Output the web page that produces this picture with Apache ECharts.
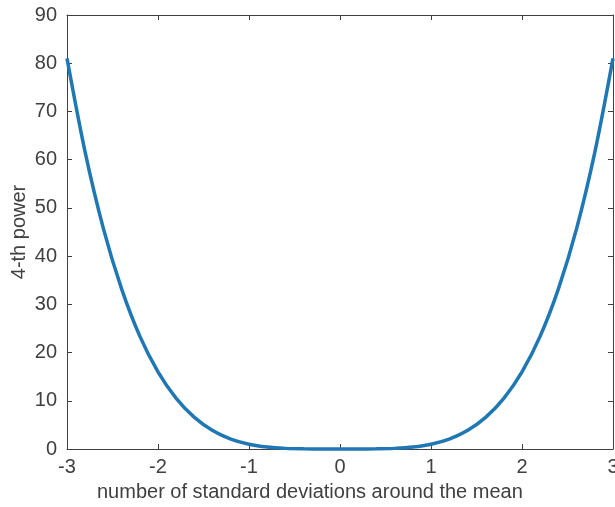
<!DOCTYPE html>
<html>
<head>
<meta charset="utf-8">
<script src="https://cdn.jsdelivr.net/npm/echarts@6/dist/echarts.min.js"></script>
<style>
  html, body { margin: 0; padding: 0; background: #fff; }
  #chart { width: 615px; height: 507px; }
</style>
</head>
<body>
<div id="chart"></div>
<script>
// Sample positions (standard deviations from the mean)
const xValues = [-3.0, -2.8, -2.6, -2.4, -2.2, -2.0, -1.8, -1.6, -1.4, -1.2, -1.0,
                 -0.8, -0.6, -0.4, -0.2, 0.0, 0.2, 0.4, 0.6, 0.8, 1.0,
                 1.2, 1.4, 1.6, 1.8, 2.0, 2.2, 2.4, 2.6, 2.8, 3.0];
// Fourth power at each sample position
const powerValues = [81.0, 61.5, 45.7, 33.2, 23.4, 16.0, 10.5, 6.55, 3.84, 2.07, 1.0,
                     0.41, 0.13, 0.03, 0.002, 0.0, 0.002, 0.03, 0.13, 0.41, 1.0,
                     2.07, 3.84, 6.55, 10.5, 16.0, 23.4, 33.2, 45.7, 61.5, 81.0];
const xTicks = [-3, -2, -1, 0, 1, 2, 3];
const yTicks = [0, 10, 20, 30, 40, 50, 60, 70, 80, 90];

const xLabel = 'number of standard deviations around the mean';
const yLabel = '4-th power';

const axisColor = '#404040';
const textColor = '#404040';
const fontFamily = '"Liberation Sans", Arial, Helvetica, sans-serif';

const chart = echarts.init(document.getElementById('chart'), null, { renderer: 'canvas' });

const baseAxis = {
  axisLine: { show: true, onZero: false, lineStyle: { color: axisColor, width: 1 } },
  axisTick: { show: true, inside: true, length: 5, lineStyle: { color: axisColor, width: 1 } },
  splitLine: { show: false },
};

chart.setOption({
  animation: false,
  backgroundColor: '#ffffff',
  grid: { left: 67, right: 2, top: 15, bottom: 58, containLabel: false, outerBoundsMode: 'none' },
  xAxis: [
    Object.assign({}, baseAxis, {
      type: 'value', position: 'bottom',
      min: xTicks[0], max: xTicks[xTicks.length - 1], interval: 1,
      axisLabel: { show: true, color: textColor, fontSize: 20, fontFamily: fontFamily, margin: 8,
                   showMinLabel: true, showMaxLabel: true }
    }),
    Object.assign({}, baseAxis, {
      type: 'value', position: 'top',
      min: xTicks[0], max: xTicks[xTicks.length - 1], interval: 1,
      axisLabel: { show: false }
    })
  ],
  yAxis: [
    Object.assign({}, baseAxis, {
      type: 'value', position: 'left',
      min: yTicks[0], max: yTicks[yTicks.length - 1], interval: 10,
      name: yLabel, nameLocation: 'middle', nameGap: 38, nameRotate: 90,
      nameMoveOverlap: false,
      nameTextStyle: { color: textColor, fontSize: 20, fontFamily: fontFamily },
      axisLabel: { show: true, color: textColor, fontSize: 20, fontFamily: fontFamily, margin: 10 }
    }),
    Object.assign({}, baseAxis, {
      type: 'value', position: 'right',
      min: yTicks[0], max: yTicks[yTicks.length - 1], interval: 10,
      axisLabel: { show: false }
    })
  ],
  graphic: [{
    type: 'text',
    left: 97,
    top: 482,
    style: { text: xLabel, fill: textColor, fontSize: 20, fontFamily: fontFamily }
  }],
  series: [{
    type: 'line',
    xAxisIndex: 0,
    yAxisIndex: 0,
    data: xValues.map((x, i) => [x, powerValues[i]]),
    smooth: 0.3,
    showSymbol: false,
    clip: false,
    lineStyle: { color: '#1f77b4', width: 3.5 }
  }]
});
</script>
</body>
</html>
